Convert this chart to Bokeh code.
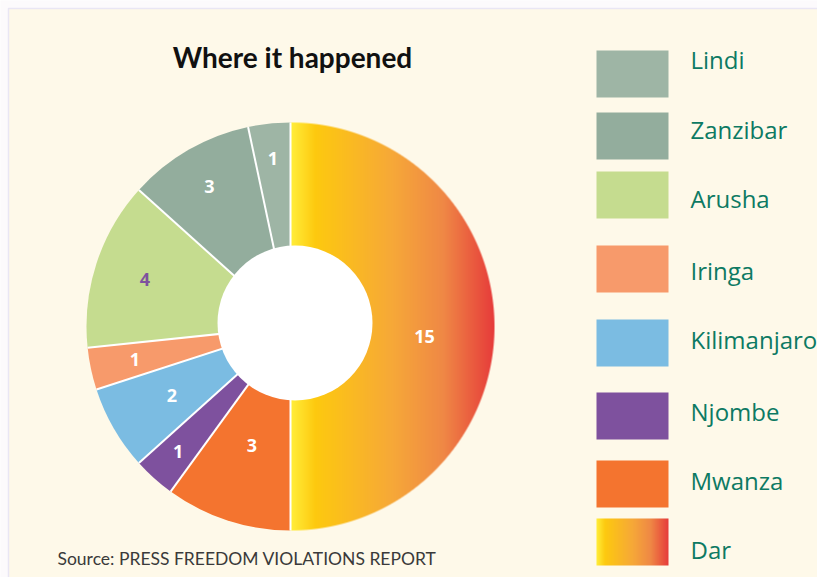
import numpy as np
from bokeh.plotting import figure
from bokeh.models import ColumnDataSource
from bokeh.core.properties import value
from bokeh.embed import file_html
from bokeh.resources import INLINE

# ---------------- data ----------------
title_text = "Where it happened"
source_text = "Source: PRESS FREEDOM VIOLATIONS REPORT"
regions = ["Dar", "Mwanza", "Njombe", "Kilimanjaro", "Iringa", "Arusha", "Zanzibar", "Lindi"]
counts = [15, 3, 1, 2, 1, 4, 3, 1]
colors = ["#f7a834", "#f4742f", "#7e519e", "#7bbce2", "#f79a6b", "#c5dc8f", "#93ad9d", "#9eb5a5"]
gradient_region = "Dar"
gradient_stops = [0.0, 0.12, 0.5, 0.75, 1.0]
gradient_colors = ["#ffee3a", "#fdc90f", "#f6a838", "#ef8845", "#e63b3a"]

# ---------------- layout / style ----------------
W, H = 817, 577
BG = "#fef9e9"
PAGE = "#fcfafc"
TEXT_GREEN = "#0d7a63"
BASE_SHIFT = 10   # alphabetic baseline correction for the svg renderer

def X(px):
    return px

def Y(py):
    return H - py

cx, cy, R = X(290), Y(326), 204
hole_x, hole_y, hole_r = X(294.5), Y(322.5), 77.5
label_r = [134, 125, 168, 137, 159, 153, 162, 169]
label_dy = [-10, 0, 0, 0, 0, 0, 0, 0]
label_colors = ["white", "white", "white", "white", "white", "#7e519e", "white", "white"]
leg_left, leg_right, leg_h = X(596), X(668), 47
leg_tops = [50, 112, 171, 245, 319, 392, 460, 518]       # page y, top to bottom
leg_baselines = [69, 139, 208, 280, 349, 421, 490, 559]
leg_text_x = X(690)


def hex2rgb(h):
    return tuple(int(h[i:i + 2], 16) for i in (1, 3, 5))


stop_rgb = np.array([hex2rgb(c) for c in gradient_colors], dtype=float)


def grad(t):
    t = np.clip(t, 0, 1)
    return np.stack([np.interp(t, gradient_stops, stop_rgb[:, k]) for k in range(3)], axis=-1)


def rgba_image(rgb, alpha):
    ny, nx = alpha.shape
    img = np.empty((ny, nx), dtype=np.uint32)
    v = img.view(dtype=np.uint8).reshape((ny, nx, 4))
    v[:, :, 0:3] = np.round(rgb).astype(np.uint8)
    v[:, :, 3] = np.round(np.clip(alpha, 0, 1) * 255).astype(np.uint8)
    return img


# ---------------- angles ----------------
total = float(sum(counts))
cum = np.concatenate([[0.0], np.cumsum(counts)])
start = np.pi / 2 - 2 * np.pi * cum[:-1] / total
end = np.pi / 2 - 2 * np.pi * cum[1:] / total
mid = (start + end) / 2

p = figure(width=W, height=H, x_range=(0, W), y_range=(0, H),
           x_axis_type=None, y_axis_type=None, toolbar_location=None,
           output_backend="svg", min_border=0)
p.grid.visible = False
p.background_fill_color = PAGE
p.border_fill_color = PAGE
p.outline_line_color = None

# cream panel
p.quad(left=[X(8)], right=[W + 20], top=[Y(8)], bottom=[-20],
       fill_color=BG, line_color="#e9e6f4", line_width=1.5)

# gradient slice as masked image
gi = regions.index(gradient_region)
n = 2 * R
xs = cx - R + np.arange(n) + 0.5
ys = cy - R + np.arange(n) + 0.5
XX, YY = np.meshgrid(xs, ys)
dx, dy = XX - cx, YY - cy
d = np.hypot(dx, dy)
theta = np.arctan2(dy, dx)
inside = ((start[gi] - theta) % (2 * np.pi)) <= (start[gi] - end[gi])
alpha = np.clip(R - d + 0.5, 0, 1) * inside
xin = XX[inside & (d <= R)]
t = (XX - xin.min()) / (xin.max() - xin.min())
p.image_rgba(image=[rgba_image(grad(t), alpha)], x=cx - R, y=cy - R, dw=n, dh=n)

fill_alpha = [0.0 if r == gradient_region else 1.0 for r in regions]
src = ColumnDataSource(dict(start=start, end=end, color=colors, fa=fill_alpha))
p.wedge(x=cx, y=cy, radius=R, start_angle="start", end_angle="end", direction="clock",
        fill_color="color", fill_alpha="fa", line_color=None, source=src)

# separators
p.segment(x0=[cx] * len(start), y0=[cy] * len(start),
          x1=list(cx + R * np.cos(start)), y1=list(cy + R * np.sin(start)),
          line_color="white", line_width=2)

# hole
p.circle(x=[hole_x], y=[hole_y], radius=hole_r, fill_color="white", line_color=None)

# slice labels
lsrc = ColumnDataSource(dict(
    x=cx + np.array(label_r) * np.cos(mid),
    y=cy + np.array(label_r) * np.sin(mid) + np.array(label_dy),
    text=[str(c) for c in counts], color=label_colors))
p.text(x="x", y="y", text="text", text_color="color", source=lsrc,
       text_align="center", text_baseline="middle", text_font=value("Open Sans"),
       text_font_style="bold", text_font_size="18px")

# title and source
p.text(x=[X(292)], y=[Y(67 - BASE_SHIFT - 1)], text=[title_text], text_align="center",
       text_baseline="alphabetic", text_font=value("Lato"), text_font_style="bold",
       text_font_size="28px", text_color="#111111")
p.text(x=[X(57)], y=[Y(566 - BASE_SHIFT + 2)], text=[source_text], text_align="left",
       text_baseline="alphabetic", text_font=value("Lato"), text_font_size="17.5px",
       text_color="#3a3a3a")

# legend (top to bottom: reversed slice order)
leg_regions = regions[::-1]
leg_colors = colors[::-1]
qsrc = ColumnDataSource(dict(
    left=[leg_left] * len(leg_regions), right=[leg_right] * len(leg_regions),
    top=[Y(tp) for tp in leg_tops], bottom=[Y(tp + leg_h) for tp in leg_tops],
    color=leg_colors,
    fa=[0.0 if r == gradient_region else 1.0 for r in leg_regions]))
p.quad(left="left", right="right", top="top", bottom="bottom", fill_color="color",
       fill_alpha="fa", line_color=None, source=qsrc)

gl = leg_regions.index(gradient_region)
sw_w, sw_h = leg_right - leg_left, leg_h
tx = (np.arange(sw_w) + 0.5) / sw_w
T = np.tile(tx, (sw_h, 1))
p.image_rgba(image=[rgba_image(grad(T), np.ones_like(T))], x=leg_left,
             y=Y(leg_tops[gl] + leg_h), dw=sw_w, dh=sw_h)

p.text(x=[leg_text_x] * len(leg_regions), y=[Y(b - BASE_SHIFT) for b in leg_baselines],
       text=leg_regions, text_align="left", text_baseline="alphabetic",
       text_font=value("Open Sans"), text_font_size="24px", text_color=TEXT_GREEN)

open("out.html", "w").write(file_html(p, INLINE))
